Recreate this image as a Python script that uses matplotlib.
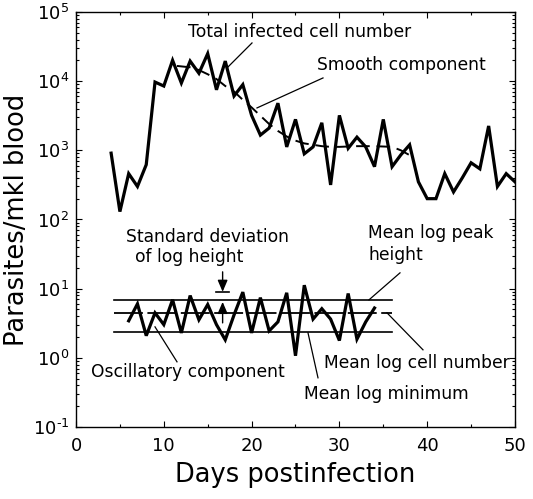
import numpy as np
import matplotlib
matplotlib.use("Agg")
import matplotlib.pyplot as plt
from matplotlib.ticker import FixedLocator, LogLocator, NullFormatter

plt.rcParams['font.family'] = ['DejaVu Sans']
plt.rcParams['mathtext.default'] = 'regular'

# Total infected cell number (daily, days 4..50)
days = list(range(4, 51))
parasites = [910, 130, 460, 300, 620, 9700, 8500, 20000, 9400, 19500,
             13000, 25000, 7500, 19500, 6100, 8900, 3200, 1660, 2100, 4800,
             1120, 2800, 890, 1120, 2500, 316, 3200, 1070, 1550, 1120,
             580, 2800, 580, 860, 1200, 350, 200, 200, 460, 250,
             400, 660, 540, 2250, 300, 460, 350]

# Smooth component
smooth_days = [11.5, 13, 14, 15, 16, 17, 18, 19, 20, 21, 22, 23, 24, 25,
               26, 27, 28, 29, 30, 32, 34, 36, 37, 38]
smooth_log = [4.22, 4.20, 4.16, 4.10, 4.03, 3.93, 3.85, 3.73, 3.62, 3.50,
              3.38, 3.28, 3.20, 3.14, 3.10, 3.08, 3.06, 3.05, 3.05, 3.06,
              3.06, 3.05, 3.00, 2.93]

# Oscillatory component
osc_days = list(range(6, 35))
osc_log = [0.535, 0.78, 0.32, 0.65, 0.48, 0.84, 0.36, 0.90, 0.55, 0.77,
           0.48, 0.26, 0.62, 0.95, 0.36, 0.87, 0.39, 0.52, 0.94, 0.03,
           1.05, 0.56, 0.71, 0.56, 0.25, 0.93, 0.27, 0.52, 0.72]

# Reference levels of the oscillatory component
band_days = [4.3, 36.0]
mean_peak = 6.9
mean_cell = 4.47
mean_min = 2.38
sd_x = 16.7
sd_top, sd_bar, sd_up_tip, sd_up_tail = 17.5, 9.0, 6.44, 3.2

ytick_vals = [1e-1, 1, 10, 100, 1e3, 1e4, 1e5]
ytick_labels = [r'$10^{\text{-}1}$', '$10^{0}$', '$10^{1}$', '$10^{2}$',
                '$10^{3}$', '$10^{4}$', '$10^{5}$']
xtick_vals = [0, 10, 20, 30, 40, 50]

fig = plt.figure(figsize=(5.33, 4.99), dpi=100)
ax = fig.add_axes([0.1426, 0.1443, 0.9662 - 0.1426, 0.976 - 0.1443])

ax.plot(days, parasites, color='black', lw=2.3, solid_joinstyle='miter')
ax.plot(smooth_days, 10 ** np.array(smooth_log), color='black', lw=1.4,
        linestyle=(0, (7, 3.5)))

ax.plot(band_days, [mean_peak] * 2, color='black', lw=1.2)
ax.plot(band_days, [mean_min] * 2, color='black', lw=1.2)
ax.plot(band_days, [mean_cell] * 2, color='black', lw=1.3, linestyle=(0, (16, 2.5)))
ax.plot(osc_days, 10 ** np.array(osc_log), color='black', lw=2.3, solid_joinstyle='miter')

# standard deviation markers
ax.annotate('', xy=(sd_x, sd_bar), xytext=(sd_x, sd_top),
            arrowprops=dict(arrowstyle='-|>,head_length=0.7,head_width=0.3',
                            color='black', lw=1.0, shrinkA=0, shrinkB=0))
ax.plot([sd_x - 0.7, sd_x + 0.7], [sd_bar, sd_bar], color='black', lw=1.2)
ax.annotate('', xy=(sd_x, sd_up_tip), xytext=(sd_x, sd_up_tail),
            arrowprops=dict(arrowstyle='-|>,head_length=0.7,head_width=0.3',
                            color='black', lw=1.0, shrinkA=0, shrinkB=0))

ax.set_yscale('log')
ax.set_xlim(0, 50)
ax.set_ylim(1e-1, 1e5)

ax.xaxis.set_major_locator(FixedLocator(xtick_vals))
ax.xaxis.set_minor_locator(FixedLocator([5, 15, 25, 35, 45]))
ax.yaxis.set_major_locator(FixedLocator(ytick_vals))
ax.yaxis.set_minor_locator(LogLocator(base=10, subs=np.arange(2, 10), numticks=20))
ax.yaxis.set_minor_formatter(NullFormatter())
ax.set_yticklabels(ytick_labels)
ax.tick_params(which='both', direction='in', top=True, right=True,
               labelsize=13, width=0.8)
ax.tick_params(which='major', length=4, pad=5)
ax.tick_params(which='minor', length=2.5)
ax.tick_params(axis='x', pad=7)
for s in ax.spines.values():
    s.set_linewidth(1.0)

ax.set_xlabel('Days postinfection', fontsize=18.5, labelpad=5)
ax.set_ylabel('Parasites/mkl blood', fontsize=18.5)
ax.yaxis.set_label_coords(-0.105, 0.5)

def px(x, y):
    # convert reference pixel coords to data coords
    d = (x - 76) / 8.78
    v = 10 ** (5 - (y - 12) / 69.2)
    return d, v

fs = 12.3
def label(text, x, y, ha='left'):
    ax.text(*px(x, y), text, fontsize=fs, ha=ha, va='center')

def leader(x1, y1, x2, y2):
    a, b = px(x1, y1)
    c, d = px(x2, y2)
    ax.plot([a, c], [b, d], color='black', lw=0.9)

label('Total infected cell number', 300, 32, ha='center')
leader(252, 43, 227, 68)
label('Smooth component', 401, 65, ha='center')
leader(323, 78, 257, 108)
label('Standard deviation', 208, 237, ha='center')
label('of log height', 189, 257, ha='center')
label('Mean log peak', 431, 233, ha='center')
label('height', 396, 255, ha='center')
leader(400, 273, 369, 300)
label('Mean log cell number', 417, 363, ha='center')
leader(387, 313, 423, 350)
label('Mean log minimum', 386, 394, ha='center')
leader(308, 333, 318, 378)
label('Oscillatory component', 188, 372, ha='center')
leader(155, 327, 177, 362)

fig.savefig('out.png', dpi=100)
